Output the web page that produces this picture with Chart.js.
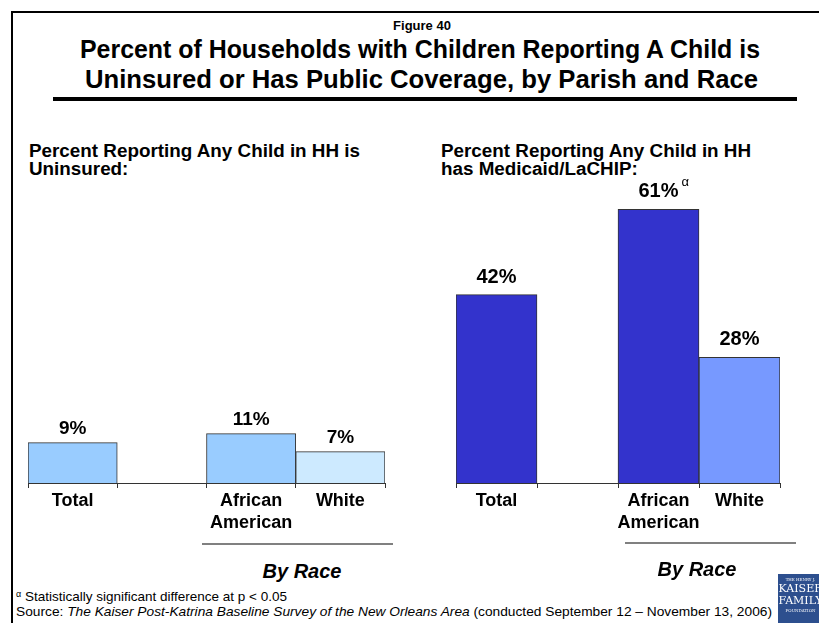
<!DOCTYPE html>
<html>
<head>
<meta charset="utf-8">
<script src="https://cdn.jsdelivr.net/npm/chart.js@4.4.1/dist/chart.umd.min.js"></script>
<style>
  body { margin: 0; background: #fff; font-family: "Liberation Sans", Arial, sans-serif; }
  #page { position: relative; width: 819px; height: 623px; overflow: hidden; }
  .abs { position: absolute; white-space: nowrap; }
  .box { position: absolute; }
  .fit { display: inline-block; transform-origin: left center; }
</style>
</head>
<body>
<div id="page">
  <div class="box" style="left:11px;top:11px;width:2px;height:612px;background:#000"></div>
  <div class="box" style="left:11px;top:11px;width:808px;height:2px;background:#000"></div>
  <div class="box" style="left:53px;top:97px;width:744px;height:4px;background:#000"></div>

  <div class="abs" style="left:0;width:844px;text-align:center;top:18px;font:bold 13px/15px 'Liberation Sans',Arial,sans-serif">Figure 40</div>
  <div class="abs" style="left:80px;top:34px;font:bold 25px/30px 'Liberation Sans',Arial,sans-serif">
    <span class="fit" data-w="680">Percent of Households with Children Reporting A Child is</span>
  </div>
  <div class="abs" style="left:85px;top:64px;font:bold 25px/30px 'Liberation Sans',Arial,sans-serif">
    <span class="fit" data-w="673">Uninsured or Has Public Coverage, by Parish and Race</span>
  </div>

  <div class="abs" style="left:29px;top:142px;font:bold 18px/18px 'Liberation Sans',Arial,sans-serif">
    <span class="fit" data-w="331">Percent Reporting Any Child in HH is</span><br>
    <span class="fit" data-k="1">Uninsured:</span>
  </div>
  <div class="abs" style="left:441px;top:142px;font:bold 18px/18px 'Liberation Sans',Arial,sans-serif">
    <span class="fit" data-k="1">Percent Reporting Any Child in HH</span><br>
    <span class="fit" data-k="1">has Medicaid/LaCHIP:</span>
  </div>

  <div class="box" style="left:26px;top:169px;width:361px;height:374px"><canvas id="left"></canvas></div>
  <div class="box" style="left:454px;top:169px;width:328px;height:374px"><canvas id="right"></canvas></div>

  <div class="box" style="left:202px;top:543px;width:191px;height:2px;background:#808080"></div>
  <div class="box" style="left:625px;top:542px;width:171px;height:2px;background:#808080"></div>
  <div class="abs" style="left:202px;width:200px;text-align:center;top:559px;font:italic bold 20px/24px 'Liberation Sans',Arial,sans-serif">By Race</div>
  <div class="abs" style="left:597px;width:200px;text-align:center;top:557px;font:italic bold 20px/24px 'Liberation Sans',Arial,sans-serif">By Race</div>

  <div class="abs" style="left:16px;top:590px;font:13.5px/14px 'Liberation Sans',Arial,sans-serif"><span style="font-size:9px;position:relative;top:-4px">α</span> Statistically significant difference at p &lt; 0.05</div>
  <div class="abs" style="left:16px;top:605px;font:13.5px/14px 'Liberation Sans',Arial,sans-serif">
    <span class="fit" data-w="756">Source: <i>The Kaiser Post-Katrina Baseline Survey of the New Orleans Area</i> (conducted September 12 – November 13, 2006)</span>
  </div>

  <div class="box" style="left:778px;top:574px;width:45px;height:49px;background:#2d4f8e;color:#fff;font-family:'DejaVu Serif',serif;text-align:center;overflow:hidden">
    <div style="font-size:4px;line-height:7px;margin-top:2px">THE HENRY J.</div>
    <div style="font-size:11px;line-height:12px">KAISER</div>
    <div style="font-size:11px;line-height:12px">FAMILY</div>
    <div style="font-size:4px;line-height:8px">FOUNDATION</div>
  </div>
</div>

<script>
// categories and values
const categories = ['Total', '', ['African', 'American'], 'White'];
const uninsured = [9, null, 11, 7];
const medicaid = [42, null, 61, 28];
const medicaidNotes = ['', '', 'α', ''];

const uninsuredColors = ['#99ccff', '#99ccff', '#99ccff', '#cdeaff'];
const medicaidColors = ['#3333cc', '#3333cc', '#3333cc', '#7799ff'];

// stretch text to the widths it has in the picture
let lastK = 1;
document.querySelectorAll('.fit').forEach(el => {
  if (el.dataset.w) lastK = el.dataset.w / el.getBoundingClientRect().width;
  el.style.transform = `scaleX(${lastK})`;
});

const valueLabels = {
  id: 'valueLabels',
  afterDatasetsDraw(chart, args, opts) {
    const ctx = chart.ctx;
    const ds = chart.data.datasets[0];
    chart.getDatasetMeta(0).data.forEach((bar, i) => {
      let v = ds.data[i];
      if (v == null) return;
      ctx.save();
      ctx.font = `bold ${opts.size}px "Liberation Sans", Arial, sans-serif`;
      ctx.fillStyle = '#000';
      ctx.textAlign = 'center';
      ctx.textBaseline = 'alphabetic';
      let txt = v + '%';
      ctx.fillText(txt, bar.x, bar.y - opts.gap);
      let note = opts.notes ? opts.notes[i] : '';
      if (note) {
        let w = ctx.measureText(txt).width;
        ctx.font = '13px "Liberation Sans", Arial, sans-serif';
        ctx.textAlign = 'left';
        ctx.fillText(note, bar.x + w / 2 + 3, bar.y - opts.gap - 11);
      }
      ctx.restore();
    });
  }
};

function makeChart(id, values, colors, labelSize, gap, notes) {
  const ctx = document.getElementById(id).getContext('2d');
  return new Chart(ctx, {
    type: 'bar',
    data: {
      labels: categories,
      datasets: [{
        data: values,
        backgroundColor: colors,
        borderColor: '#333',
        borderWidth: 1,
        barPercentage: 1,
        categoryPercentage: 1
      }]
    },
    options: {
      responsive: true,
      maintainAspectRatio: false,
      animation: false,
      layout: { padding: { left: 2, right: 2, top: 0, bottom: 0 } },
      plugins: {
        legend: { display: false },
        tooltip: { enabled: false },
        valueLabels: { size: labelSize, gap: gap, notes: notes }
      },
      scales: {
        y: { display: false, min: 0, max: 70 },
        x: {
          afterFit: s => { s.height = 60; },
          border: { display: true, color: '#333', width: 1 },
          grid: { drawOnChartArea: false, drawTicks: true, tickLength: 5, color: '#333' },
          ticks: {
            color: '#000',
            padding: 2,
            autoSkip: false,
            maxRotation: 0,
            minRotation: 0,
            font: { family: '"Liberation Sans", Arial, sans-serif', size: 18, weight: 'bold', lineHeight: 1.22 }
          }
        }
      }
    },
    plugins: [valueLabels]
  });
}

makeChart('left', uninsured, uninsuredColors, 19, 9, null);
makeChart('right', medicaid, medicaidColors, 20, 12, medicaidNotes);
</script>
</body>
</html>
